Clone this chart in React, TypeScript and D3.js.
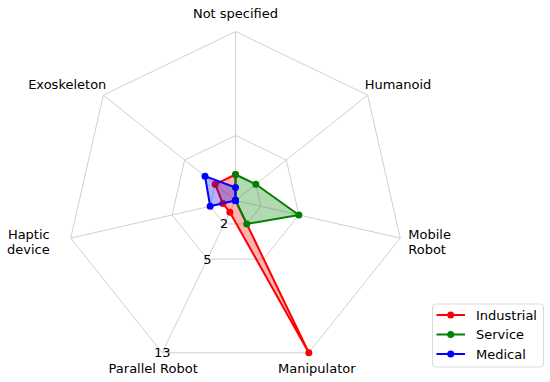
import React from "react";
import * as d3 from "d3";

const categories = ["Not specified", "Humanoid", "Mobile Robot", "Manipulator", "Parallel Robot", "Haptic device", "Exoskeleton"];
const industrial = [2, 0, 0, 13, 1, 1, 2];
const service = [2, 2, 5, 2, 0, 0, 0];
const medical = [1, 0, 0, 0, 0, 2, 3];
const seriesNames = ["Industrial", "Service", "Medical"];
const seriesColors = ["#ff0000", "#008000", "#0000ff"];
const rTicks = [2, 5, 13];

const W = 550;
const H = 382;
const cx = 235.5;
const cy = 200.5;
const R = 169;
const FONT = "DejaVu Sans, sans-serif";

// label placement relative to the outer vertex of each axis
const labelLayout: { anchor: string; dx: number; dy: number; lines: string[] }[] = [
  { anchor: "middle", dx: 0, dy: -14, lines: ["Not specified"] },
  { anchor: "start", dx: -3, dy: -6.5, lines: ["Humanoid"] },
  { anchor: "start", dx: 8, dy: 1, lines: ["Mobile", "Robot"] },
  { anchor: "middle", dx: 8, dy: 20, lines: ["Manipulator"] },
  { anchor: "middle", dx: -9, dy: 20, lines: ["Parallel Robot"] },
  { anchor: "end", dx: -21, dy: 1, lines: ["Haptic", "device"] },
  { anchor: "end", dx: 3, dy: -6.5, lines: ["Exoskeleton"] },
];

export default function App() {
  const n = categories.length;
  const r = d3.scaleLinear().domain([0, 13]).range([0, R]);
  const angle = (i: number) => (i * 2 * Math.PI) / n;
  const pt = (i: number, v: number): [number, number] => [
    cx + r(v) * Math.sin(angle(i)),
    cy - r(v) * Math.cos(angle(i)),
  ];

  const radial = d3
    .lineRadial<number>()
    .angle((_, i) => angle(i))
    .radius((d) => r(d))
    .curve(d3.curveLinearClosed);

  const data = [industrial, service, medical];
  const labelAngle = angle(4);

  return (
    <div style={{ position: "fixed", left: 0, top: 0 }}>
      <svg width={W} height={H} style={{ display: "block", background: "#fff" }} fontFamily={FONT}>
        {/* grid rings */}
        {rTicks.map((t) => (
          <path
            key={t}
            transform={`translate(${cx},${cy})`}
            d={radial(categories.map(() => t)) ?? ""}
            fill="none"
            stroke="#d0d0d0"
            strokeWidth={1}
          />
        ))}
        {/* spokes */}
        {categories.map((c, i) => {
          const [x, y] = pt(i, 13);
          return <line key={c} x1={cx} y1={cy} x2={x} y2={y} stroke="#d0d0d0" strokeWidth={1} />;
        })}
        {/* series */}
        {data.map((vals, s) => (
          <g key={seriesNames[s]}>
            <path
              transform={`translate(${cx},${cy})`}
              d={radial(vals) ?? ""}
              fill="none"
              stroke={seriesColors[s]}
              strokeWidth={2}
              strokeLinejoin="round"
            />
            {vals.map((v, i) => {
              const [x, y] = pt(i, v);
              return <circle key={i} cx={x} cy={y} r={3.5} fill={seriesColors[s]} />;
            })}
            <path
              transform={`translate(${cx},${cy})`}
              d={radial(vals) ?? ""}
              fill={seriesColors[s]}
              fillOpacity={0.3}
              stroke="none"
            />
          </g>
        ))}
        {/* radial tick labels */}
        {rTicks.map((t) => (
          <text
            key={t}
            x={cx + r(t) * Math.sin(labelAngle)}
            y={cy - r(t) * Math.cos(labelAngle)}
            textAnchor="middle"
            dominantBaseline="central"
            fontSize={13}
            fill="#000"
          >
            {t}
          </text>
        ))}
        {/* category labels */}
        {categories.map((c, i) => {
          const [x, y] = pt(i, 13);
          const lay = labelLayout[i];
          return (
            <text key={c} x={x + lay.dx} y={y + lay.dy} textAnchor={lay.anchor} fontSize={13} fill="#000">
              {lay.lines.map((l, k) => (
                <tspan key={k} x={x + lay.dx} dy={k === 0 ? 0 : 14.5}>
                  {l}
                </tspan>
              ))}
            </text>
          );
        })}
        {/* legend */}
        <g transform="translate(432.5,304)">
          <rect width={111} height={63} rx={3} fill="#fff" stroke="#dcdcdc" strokeWidth={1} />
          {seriesNames.map((name, s) => (
            <g key={name} transform={`translate(0,${11 + s * 19.5})`}>
              <line x1={4} x2={32.5} stroke={seriesColors[s]} strokeWidth={2} />
              <circle cx={18.2} r={3.5} fill={seriesColors[s]} />
              <text x={43.5} dy="0.35em" fontSize={13} fill="#000">
                {name}
              </text>
            </g>
          ))}
        </g>
      </svg>
    </div>
  );
}
